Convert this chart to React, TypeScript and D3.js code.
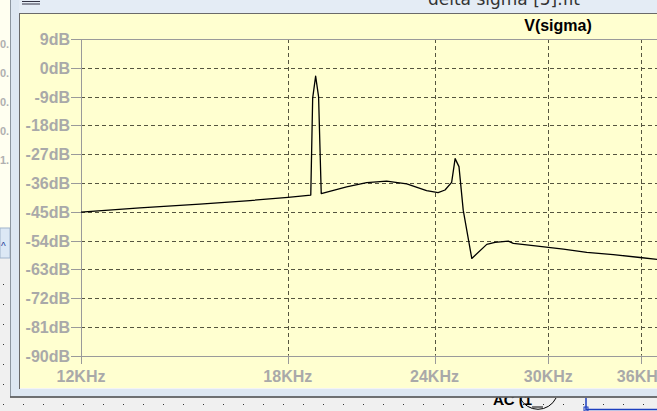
import React from "react";
import * as d3 from "d3";

const freqKHz = [12.0, 13.47, 15.15, 16.71, 18.01, 18.83, 18.9, 19.01, 19.12, 19.22, 20.2, 21.01, 21.85, 22.73, 23.63, 24.17, 24.5, 24.82, 24.99, 25.18, 25.39, 25.82, 26.59, 27.02, 27.74, 28.01, 29.13, 30.9, 32.35, 34.08, 35.91, 37.13];
const magDB = [-45.1, -43.8, -42.6, -41.5, -40.5, -39.8, -9.5, -2.6, -9.0, -39.3, -37.2, -35.9, -35.4, -36.3, -38.4, -39.0, -38.2, -35.8, -28.4, -30.9, -44.5, -59.6, -55.2, -54.6, -54.2, -54.9, -55.6, -56.7, -57.7, -58.4, -59.3, -59.9];
const yTicks = [9, 0, -9, -18, -27, -36, -45, -54, -63, -72, -81, -90];
const xTicks = [12, 18, 24, 30, 36];
const traceName = "V(sigma)";
const windowTitle = "delta sigma [5].flt";
const leftGhost = ["0.", "0.", "0.", "0.", "1."];

export default function App() {
  const W = 657, H = 411;
  const x = d3.scaleLog().domain([12, 40]).range([81, 81 + 510 * Math.log(40 / 12)]);
  const y = d3.scaleLinear().domain([-90, 9]).range([355.7, 39]);
  const line = d3.line<number>().x((_, i) => x(freqKHz[i])).y((d) => y(d));
  const labelFont = "'Liberation Sans', Arial, sans-serif";
  const grey = "#a9a9a9";
  const dots: JSX.Element[] = [];
  for (let i = 0; i < 34; i++) {
    dots.push(<rect key={"b" + i} x={3 + i * 20} y={404} width={1} height={1} fill="#333" />);
  }
  for (let j = 0; j < 7; j++) {
    dots.push(<rect key={"l" + j} x={3} y={284 + j * 20} width={1} height={1} fill="#333" />);
  }
  return (
    <svg width={W} height={H} style={{ display: "block", position: "absolute", left: 0, top: 0 }}>
      <rect x={0} y={0} width={W} height={H} fill="#f0f0f0" />
      {/* left ghost strip */}
      <rect x={0} y={0} width={10} height={228} fill="#fffff0" />
      {leftGhost.map((t, i) => (
        <text key={i} x={0} y={48 + i * 29} fontFamily={labelFont} fontWeight="bold" fontSize={11} fill="#b0b0b0">{t}</text>
      ))}
      <rect x={0} y={228} width={10} height={30} fill="#dce8f5" stroke="#a0b4cc" strokeWidth={1} />
      <text x={1} y={250} fontFamily={labelFont} fontSize={10} fill="#1a3a9a">^</text>
      {dots}
      {/* bottom schematic remnants (partly hidden by the window) */}
      <text x={493} y={405} fontFamily={labelFont} fontWeight="bold" fontSize={15} fill="#000">AC (1</text>
      <path d="M520,398 A20,20 0 0 0 556,398" fill="none" stroke="#000" strokeWidth={1} />
      <line x1={532} x2={543} y1={407} y2={407} stroke="#000" />
      <path d="M586,398V409.5H657" fill="none" stroke="#1c3fbf" strokeWidth={1.5} />
      <rect x={584} y={407} width={4} height={4} fill="none" stroke="#1c3fbf" />
      {/* window frame */}
      <rect x={10.5} y={-1} width={W} height={398} fill="#dde7f2" stroke="#8c96a0" strokeWidth={1} />
      <rect x={19} y={0} width={W} height={13} fill="#e4ecf5" />
      <text x={504} y={5} textAnchor="middle" fontFamily="'DejaVu Sans', sans-serif" fontSize={17} fill="#333">{windowTitle}</text>
      <path d="M22,1.5H40M22,4H40" stroke="#334" strokeWidth={1} />
      <rect x={19.5} y={13.5} width={W} height={375} fill="#ffffd0" stroke="#6a6a6a" strokeWidth={1} />
      <line x1={20} x2={W} y1={388.5} y2={388.5} stroke="#f4f4f4" />
      <line x1={10} x2={W} y1={397} y2={397} stroke="#555" strokeWidth={1.5} />
      {/* title */}
      <text x={558} y={31} textAnchor="middle" fontFamily={labelFont} fontWeight="bold" fontSize={16} fill="#000">{traceName}</text>
      {/* grid */}
      {yTicks.filter((t) => t !== 9 && t !== -90).map((t) => (
        <line key={"gy" + t} x1={81} x2={W} y1={Math.round(y(t)) + 0.5} y2={Math.round(y(t)) + 0.5} stroke="#55553f" strokeDasharray="4,3" strokeWidth={1} />
      ))}
      {xTicks.filter((t) => t !== 12).map((t) => (
        <line key={"gx" + t} x1={Math.round(x(t)) + 0.5} x2={Math.round(x(t)) + 0.5} y1={y(9)} y2={y(-90)} stroke="#55553f" strokeDasharray="4,3" strokeWidth={1} />
      ))}
      {/* frame lines */}
      <line x1={81} x2={W} y1={Math.round(y(9)) + 0.5} y2={Math.round(y(9)) + 0.5} stroke="#9a9a9a" />
      <line x1={81} x2={W} y1={Math.round(y(-90)) + 0.5} y2={Math.round(y(-90)) + 0.5} stroke="#9a9a9a" />
      <line x1={81.5} x2={81.5} y1={y(9)} y2={364} stroke="#9a9a9a" />
      {/* y ticks */}
      {yTicks.map((t) => (
        <g key={"ty" + t}>
          <line x1={71} x2={81} y1={Math.round(y(t)) + 0.5} y2={Math.round(y(t)) + 0.5} stroke="#9a9a9a" />
          <text x={70} y={y(t) + 6} textAnchor="end" fontFamily={labelFont} fontWeight="bold" fontSize={16} fill={grey}>{t}dB</text>
        </g>
      ))}
      {/* x ticks */}
      {xTicks.map((t) => (
        <g key={"tx" + t}>
          <line x1={Math.round(x(t)) + 0.5} x2={Math.round(x(t)) + 0.5} y1={y(-90)} y2={364} stroke="#9a9a9a" />
          <text x={x(t)} y={382} textAnchor="middle" fontFamily={labelFont} fontWeight="bold" fontSize={16} fill={grey}>{t}KHz</text>
        </g>
      ))}
      {/* trace */}
      <path d={line(magDB) || ""} fill="none" stroke="#000" strokeWidth={1.3} strokeLinejoin="round" />
    </svg>
  );
}
